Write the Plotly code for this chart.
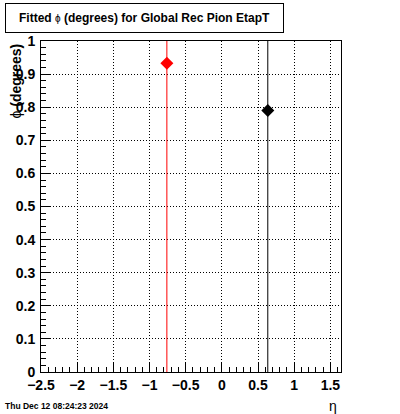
import plotly.graph_objects as go

# data
eta_values = [-0.76, 0.635]
phi_values = [0.933, 0.79]
phi_errors = [5.0, 5.0]
point_colors = ["#ff0000", "#000000"]

title_text = "Fitted <span style='font-size:10px;font-weight:normal'>ϕ</span> (degrees) for Global Rec Pion EtapT"
x_title = "η"
y_title = "<span style='font-weight:normal'>ϕ</span> (degrees)"
date_text = "Thu Dec 12 08:24:23 2024"

FONT = "Liberation Sans, Arial, sans-serif"

fig = go.Figure()
for x, y, e, c in zip(eta_values, phi_values, phi_errors, point_colors):
    fig.add_trace(go.Scatter(
        x=[x], y=[y], mode="markers",
        marker=dict(symbol="diamond", size=10, color=c),
        error_y=dict(type="data", array=[e], visible=True, width=0, thickness=1, color=c),
        showlegend=False, cliponaxis=True,
    ))

axis_common = dict(
    showline=True, linecolor="black", linewidth=1, mirror=True,
    ticks="inside", tickcolor="black", tickwidth=1,
    showgrid=True, gridcolor="black", griddash="1px,2px", gridwidth=1,
    zeroline=False, automargin=False,
    tickfont=dict(family=FONT, size=14, color="black", weight="bold"),
)

fig.update_xaxes(range=[-2.5, 1.647], dtick=0.5, tick0=-2.5, ticklen=10,
                 minor=dict(dtick=0.1, ticklen=5, ticks="inside", tickcolor="black", showgrid=False),
                 **axis_common)
fig.update_yaxes(range=[0, 1], dtick=0.1, tick0=0, ticklen=9,
                 minor=dict(dtick=0.02, ticklen=5, ticks="inside", tickcolor="black", showgrid=False),
                 ticklabelstandoff=2,
                 **axis_common)

fig.update_layout(
    width=400, height=414,
    margin=dict(l=41, r=59, t=41, b=42, pad=0),
    paper_bgcolor="white", plot_bgcolor="white",
    font=dict(family=FONT, color="black"),
    annotations=[
        dict(text=title_text, xref="paper", yref="paper",
             x=(5 - 41) / 300, y=(372 - 3) / 331, xanchor="left", yanchor="top",
             showarrow=False, width=275, height=26, borderpad=1, borderwidth=1,
             bordercolor="black", bgcolor="white", align="center",
             font=dict(family=FONT, size=12, color="black", weight="bold")),
        dict(text=y_title, xref="paper", yref="paper", textangle=-90,
             x=(15 - 41) / 300, y=(372 - 42) / 331, xanchor="center", yanchor="top",
             showarrow=False, font=dict(family=FONT, size=14, color="black", weight="bold")),
        dict(text=x_title, xref="paper", yref="paper",
             x=(333 - 41) / 300, y=(372 - 396) / 331, xanchor="center", yanchor="top",
             showarrow=False, font=dict(family=FONT, size=14, color="black")),
        dict(text=date_text, xref="paper", yref="paper",
             x=(3 - 41) / 300, y=(372 - 399) / 331, xanchor="left", yanchor="top",
             showarrow=False, font=dict(family=FONT, size=8.5, color="black", weight="bold")),
    ],
)

fig.write_html("out.html", config={"displayModeBar": False},
               post_script="document.body.style.margin='0';document.body.style.padding='0';")
